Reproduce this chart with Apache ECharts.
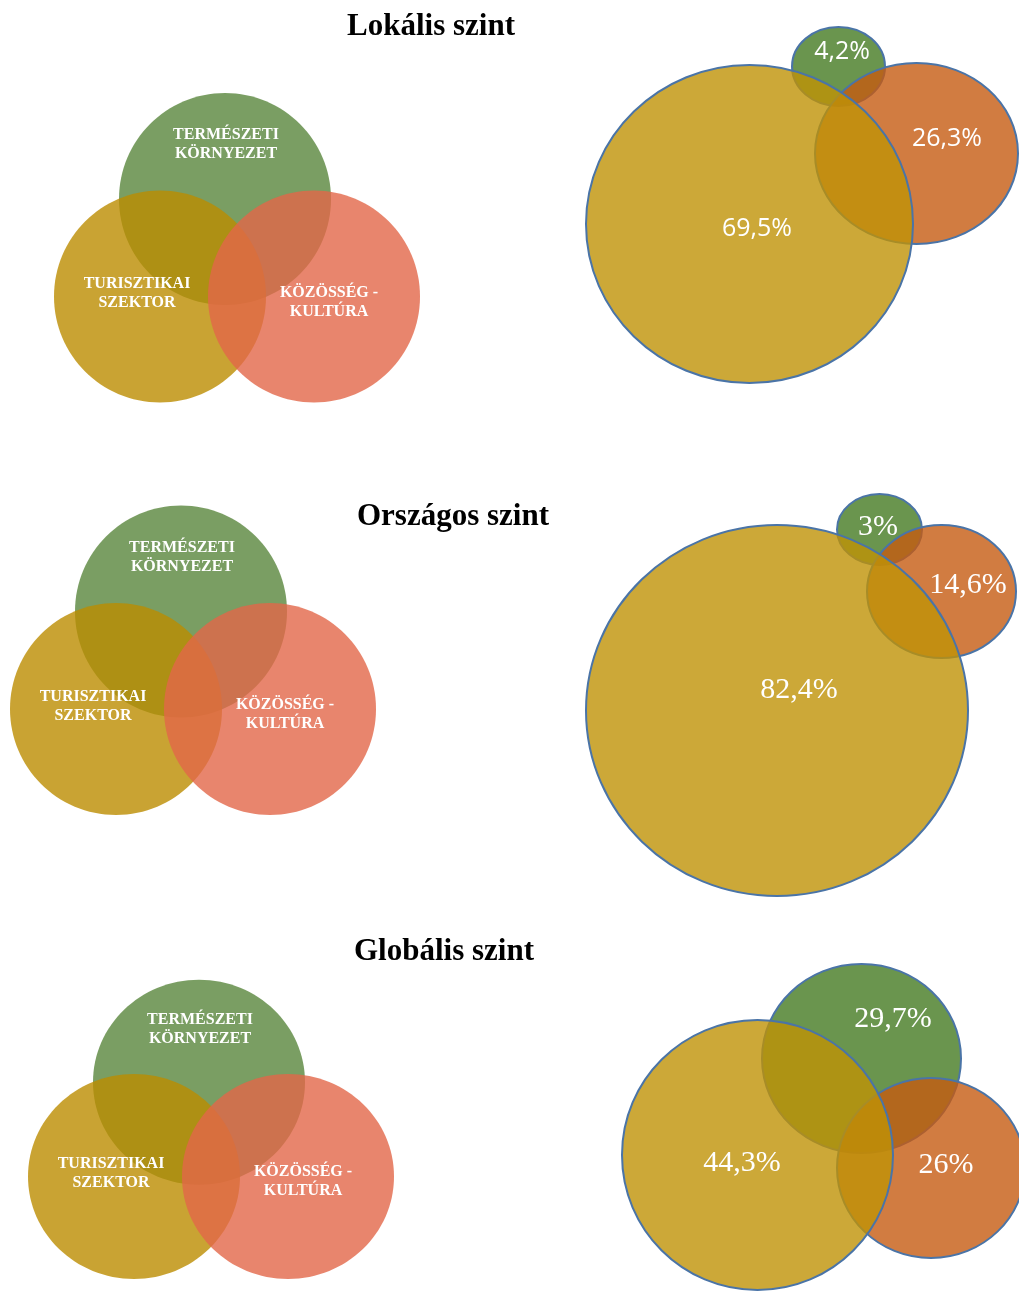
<!DOCTYPE html>
<html><head><meta charset="utf-8">
<script src="https://cdn.jsdelivr.net/npm/echarts@6/dist/echarts.min.js"></script>
<style>html,body{margin:0;padding:0;background:#fff}#c{width:1019px;height:1291px}</style>
</head><body><div id="c"></div>
<script>
// ---- data ----
const levels = ['Lokális szint', 'Országos szint', 'Globális szint'];
const vennCategories = ['TERMÉSZETI\nKÖRNYEZET', 'TURISZTIKAI\nSZEKTOR', 'KÖZÖSSÉG -\nKULTÚRA'];
// order: [természeti környezet, turisztikai szektor, közösség - kultúra]
const lokalisValues = [4.2, 69.5, 26.3];
const orszagosValues = [3, 82.4, 14.6];
const globalisValues = [29.7, 44.3, 26];
const levelValues = [lokalisValues, orszagosValues, globalisValues];

// ---- layout (diagram units inside each panel) ----
const vennBoxes = [[50, 85], [6, 497.5], [24, 972]];
const vennCenters = [[175, 114], [110, 211.5], [264, 211.5]];
const vennRadius = 106;
const vennLabelPos = [[176, 59.5], [87, 208.5], [279, 217]];
const titlePos = [[431, 11], [453, 501], [444, 936]];
const propPanels = [
  { box: [580, 20, 439, 380],
    ell: [[258.5, 46.5, 46.5, 39.5], [169.5, 204, 163.5, 159], [336.5, 133.5, 101.5, 90.5]],
    lab: [[262, 32], [177, 209], [367, 119]], sans: true },
  { box: [580, 485, 439, 420],
    ell: [[299.5, 44.5, 42.5, 35.5], [197, 225.5, 191, 185.5], [361.5, 106.5, 74.5, 66.5]],
    lab: [[298, 42], [219, 205], [388, 100]], sans: false },
  { box: [600, 955, 419, 336],
    ell: [[261.5, 103.5, 99.5, 94.5], [157.5, 200, 135.5, 135], [331, 213, 94, 90]],
    lab: [[293, 64], [142, 208], [346, 210]], sans: false }
];
const vennFill = ['rgba(89,134,60,0.8)', 'rgba(187,140,0,0.8)', 'rgba(226,102,72,0.8)'];
const propFill = ['rgba(69,122,34,0.8)', 'rgba(191,146,6,0.8)', 'rgba(197,91,18,0.8)'];
const vennOrder = [0, 1, 2];
const propOrder = [0, 2, 1];

function fmt(v) { return String(v).replace('.', ',') + '%'; }

const grids = [], xAxes = [], yAxes = [], series = [];
function addGrid(l, t, w, h) {
  const gi = grids.length;
  grids.push({ left: l, top: t, width: w, height: h });
  xAxes.push({ type: 'value', gridIndex: gi, min: 0, max: w, show: false });
  yAxes.push({ type: 'value', gridIndex: gi, min: 0, max: h, inverse: true, show: false });
  return gi;
}

// left venn diagrams
vennBoxes.forEach(function (b) {
  const gi = addGrid(b[0], b[1], 380, 330);
  const data = vennOrder.map(function (k) { return [vennCenters[k][0], vennCenters[k][1], vennRadius, vennRadius, k]; });
  series.push({
    type: 'custom', xAxisIndex: gi, yAxisIndex: gi, z: 2, silent: true,
    encode: { x: 0, y: 1 }, data: data,
    renderItem: function (p, api) {
      const c = api.coord([api.value(0), api.value(1)]);
      const s = api.size([api.value(2), api.value(3)]);
      return { type: 'ellipse', shape: { cx: c[0], cy: c[1], rx: s[0], ry: s[1] },
        style: { fill: vennFill[api.value(4)], stroke: null } };
    }
  });
  series.push({
    type: 'custom', xAxisIndex: gi, yAxisIndex: gi, z: 3, silent: true,
    encode: { x: 0, y: 1 }, data: vennLabelPos.map(function (q) { return [q[0], q[1]]; }),
    renderItem: function (p, api) {
      const c = api.coord([api.value(0), api.value(1)]);
      return { type: 'text', x: c[0], y: c[1],
        style: { text: vennCategories[p.dataIndex], fill: '#fff', fontFamily: 'Liberation Serif',
          fontWeight: 'bold', fontSize: 16, lineHeight: 19, align: 'center', verticalAlign: 'middle' } };
    }
  });
});

// right proportional diagrams
propPanels.forEach(function (pp, li) {
  const gi = addGrid(pp.box[0], pp.box[1], pp.box[2], pp.box[3]);
  const vals = levelValues[li];
  const data = propOrder.map(function (k) { const e = pp.ell[k]; return [e[0], e[1], e[2], e[3], k]; });
  series.push({
    type: 'custom', xAxisIndex: gi, yAxisIndex: gi, z: 2, silent: true,
    encode: { x: 0, y: 1 }, data: data,
    renderItem: function (p, api) {
      const c = api.coord([api.value(0), api.value(1)]);
      const s = api.size([api.value(2), api.value(3)]);
      return { type: 'ellipse', shape: { cx: c[0], cy: c[1], rx: s[0], ry: s[1] },
        style: { fill: propFill[api.value(4)], stroke: '#4A74A7', lineWidth: 2 } };
    }
  });
  series.push({
    type: 'custom', xAxisIndex: gi, yAxisIndex: gi, z: 3, silent: true,
    encode: { x: 0, y: 1 }, data: pp.lab.map(function (q) { return [q[0], q[1]]; }),
    renderItem: function (p, api) {
      const c = api.coord([api.value(0), api.value(1)]);
      return { type: 'text', x: c[0], y: c[1],
        style: { text: fmt(vals[p.dataIndex]), fill: '#fff',
          fontFamily: pp.sans ? 'Open Sans' : 'Liberation Serif',
          fontSize: pp.sans ? 25 : 30, align: 'center', verticalAlign: 'middle' } };
    }
  });
});

const chart = echarts.init(document.getElementById('c'), null, { renderer: 'canvas' });
chart.setOption({
  animation: false,
  backgroundColor: '#fff',
  title: levels.map(function (t, i) {
    return { text: t, left: titlePos[i][0], top: titlePos[i][1], textAlign: 'center', padding: 0,
      textStyle: { fontFamily: 'Liberation Serif', fontWeight: 'bold', fontSize: 31, color: '#000' } };
  }),
  grid: grids, xAxis: xAxes, yAxis: yAxes, series: series
});
</script></body></html>
